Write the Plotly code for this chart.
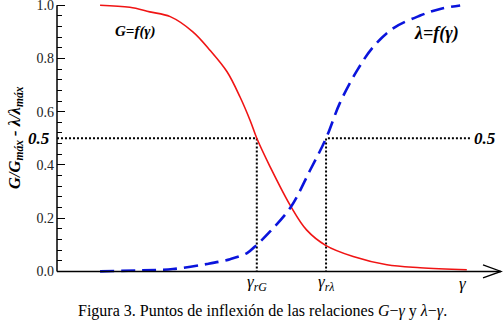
import plotly.graph_objects as go

# ---- data ----
gamma_G = [9.7, 16.4, 20.9, 25.5, 30.6, 34.5, 38.3, 41.2, 43.5, 45.0, 48.0, 52.7, 56.2, 60.6, 66.7, 74.3, 81.8, 92.3]
G_norm = [1.0, 0.992, 0.975, 0.957, 0.90, 0.83, 0.75, 0.656, 0.567, 0.5, 0.393, 0.243, 0.156, 0.097, 0.056, 0.025, 0.014, 0.006]

gamma_L = [9.7, 18.7, 26.1, 33.8, 39.0, 42.8, 45.0, 48.0, 52.7, 57.0, 60.6, 63.7, 67.6, 71.2, 75.7, 81.8, 86.3, 90.8]
L_norm = [0.0, 0.004, 0.009, 0.028, 0.046, 0.069, 0.10, 0.15, 0.243, 0.38, 0.5, 0.632, 0.755, 0.843, 0.913, 0.961, 0.986, 0.999]

gamma_rG = 45.0
gamma_rL = 60.6
gamma_end = 91.4
ref_level = 0.5
ref_right_end = 93.0

y_ticks = [0.0, 0.2, 0.4, 0.6, 0.8, 1.0]
y_ticktext = ["0.0", "0.2", "0.4", "0.6", "0.8", "1.0"]
x_labels_pos = [gamma_rG, gamma_rL, gamma_end]
x_labels_text = ["γ<sub>rG</sub>", "γ<sub>rλ</sub>", "γ"]

Y0, Y1 = -0.006, 1.012
X0, X1 = 0, 100

SERIF = "Liberation Serif"

fig = go.Figure()

# reference dotted lines
dot = dict(color="black", width=2, dash="2px,2px")
fig.add_trace(go.Scatter(x=[X0, gamma_rG, gamma_rG], y=[ref_level, ref_level, 0],
                         mode="lines", line=dot, hoverinfo="skip"))
fig.add_trace(go.Scatter(x=[ref_right_end, gamma_rL, gamma_rL], y=[ref_level, ref_level, 0],
                         mode="lines", line=dot, hoverinfo="skip"))

fig.add_trace(go.Scatter(x=gamma_G, y=G_norm, mode="lines",
                         line=dict(color="#f01414", width=1.6, shape="spline"), name="G"))
fig.add_trace(go.Scatter(x=gamma_L, y=L_norm, mode="lines",
                         line=dict(color="#0a14dc", width=2.6, shape="spline", dash="14px,7px"), name="λ"))

p0 = (0 - Y0) / (Y1 - Y0)
p1 = (1 - Y0) / (Y1 - Y0)
plot_h = 327 - 2 - 54
plot_w = 503 - 57 - 2

shapes = [
    dict(type="line", xref="paper", yref="paper", x0=0, x1=0, y0=p0, y1=p1,
         line=dict(color="black", width=1.5)),
    dict(type="line", xref="paper", yref="paper", x0=0, x1=1, y0=p0, y1=p0,
         line=dict(color="black", width=1.5)),
    dict(type="path", xref="paper", yref="paper",
         path=f"M {1 - 18/plot_w},{p0 + 6.5/plot_h} L 1,{p0} L {1 - 18/plot_w},{p0 - 6.5/plot_h}",
         line=dict(color="black", width=1.3)),
]

def px_x(px):
    return (px - 57) / plot_w

def px_y(py):
    return (327 - 54 - py) / plot_h

def ann(text, x, y, size, xref="paper", angle=0):
    return dict(text=text, xref=xref, yref="paper", x=x, y=y, textangle=angle,
                showarrow=False, xanchor="center", yanchor="middle",
                font=dict(family=SERIF, size=size, color="black"))

annotations = [
    ann("<b><i>G/G<sub>máx</sub> - λ/λ<sub>máx</sub></i></b>", px_x(15), px_y(138), 16.5, angle=-90),
    ann("<b><i>G=f(γ)</i></b>", px_x(135), px_y(31), 15),
    ann("<b><i>λ=f(γ)</i></b>", px_x(436), px_y(33), 18),
    ann("<b><i>0.5</i></b>", px_x(39), px_y(138), 17),
    ann("<b><i>0.5</i></b>", px_x(485), px_y(138), 17),
    ann("Figura 3. Puntos de inflexión de las relaciones <i>G</i>−<i>γ</i> y <i>λ</i>−<i>γ</i>.",
        px_x(262), px_y(311), 16),
]
for xv, tx in zip(x_labels_pos, x_labels_text):
    annotations.append(ann(f"<i>{tx}</i>", xv, px_y(283), 17, xref="x"))

fig.update_layout(
    width=503, height=327,
    margin=dict(l=57, r=2, t=2, b=54, autoexpand=False),
    paper_bgcolor="white", plot_bgcolor="white",
    showlegend=False,
    shapes=shapes,
    annotations=annotations,
    xaxis=dict(range=[X0, X1], showgrid=False, zeroline=False, showline=False,
               showticklabels=False, ticks="", automargin=False),
    yaxis=dict(range=[Y0, Y1], showgrid=False, zeroline=False, showline=False,
               tickvals=y_ticks, ticktext=y_ticktext, ticks="inside", ticklen=8,
               tickwidth=1.2, tickcolor="black", automargin=False,
               ticklabeloverflow="allow",
               minor=dict(dtick=0.04, tick0=0, ticks="inside", ticklen=5, tickwidth=1, tickcolor="black"),
               tickfont=dict(family=SERIF, size=14, color="#222"),
               ticklabelstandoff=2),
)

fig.write_html("out.html", config={"displayModeBar": False},
               post_script="document.body.style.margin='0px';")
